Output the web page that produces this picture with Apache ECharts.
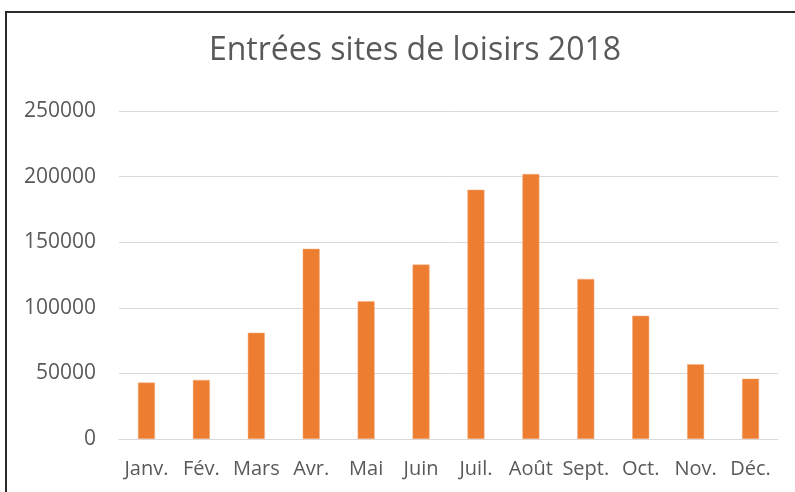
<!DOCTYPE html>
<html lang="fr">
<head>
<meta charset="utf-8">
<title>Entrées sites de loisirs 2018</title>
<script src="https://cdn.jsdelivr.net/npm/echarts@6/dist/echarts.min.js"></script>
<style>
  html, body { margin: 0; padding: 0; background: #FFFFFF; overflow: hidden; }
  #chart { position: absolute; left: 0; top: 0; width: 795px; height: 492px; }
  /* cadre du graphique Excel : coupé à droite et en bas */
  #frame { position: absolute; left: 5px; top: 11px; right: -20px; bottom: -20px;
           border: 2px solid #2B2B2B; pointer-events: none; }
</style>
</head>
<body>
<div id="chart"></div>
<div id="frame"></div>
<script>
  const mois = ["Janv.", "Fév.", "Mars", "Avr.", "Mai", "Juin",
                "Juil.", "Août", "Sept.", "Oct.", "Nov.", "Déc."];
  const entrees = [43000, 45000, 81000, 145000, 105000, 133000,
                   190000, 202000, 122000, 94000, 57000, 46000];
  const yMax = 250000;
  const yStep = 50000;

  const TXT = "#595959";
  const FONT = "'Open Sans', 'Noto Sans', sans-serif";

  const chart = echarts.init(document.getElementById("chart"), null, { renderer: "canvas" });
  chart.setOption({
    animation: false,
    title: {
      text: "Entrées sites de loisirs 2018",
      left: 410, top: 30, textAlign: "center",
      textStyle: { color: TXT, fontFamily: FONT, fontSize: 32, fontWeight: "normal" },
    },
    grid: { left: 119, right: 17, top: 111, bottom: 53, containLabel: false, outerBoundsMode: "none" },
    xAxis: {
      type: "category",
      data: mois,
      axisTick: { show: false },
      axisLine: { lineStyle: { color: "#D9D9D9", width: 1 } },
      axisLabel: { color: TXT, fontFamily: FONT, fontSize: 20, margin: 20, interval: 0 },
    },
    yAxis: {
      type: "value",
      min: 0, max: yMax, interval: yStep,
      axisLine: { show: false },
      axisTick: { show: false },
      splitLine: { lineStyle: { color: "#D9D9D9", width: 1 } },
      axisLabel: { color: TXT, fontFamily: FONT, fontSize: 21, margin: 23,
                   formatter: (v) => String(v) },
    },
    series: [{
      type: "bar",
      data: entrees,
      barWidth: 17,
      itemStyle: { color: "#ED7D31", borderColor: "#F4B183", borderWidth: 0.5 },
    }],
  });
</script>
</body>
</html>
